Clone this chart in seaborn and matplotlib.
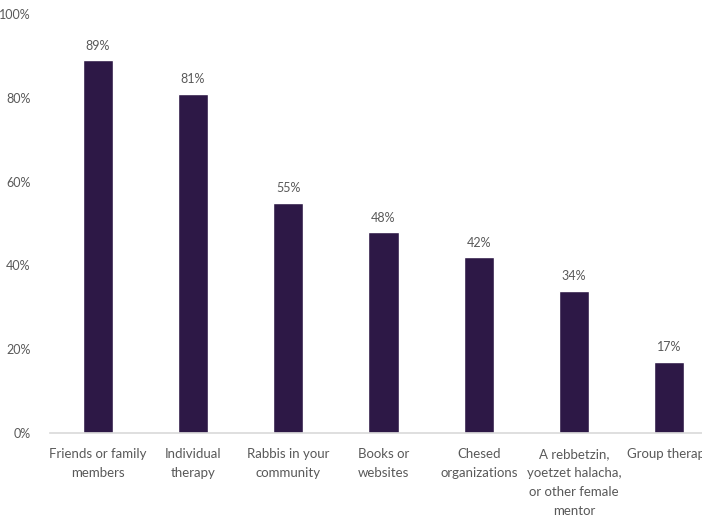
import matplotlib
matplotlib.use("Agg")
import matplotlib.pyplot as plt
import seaborn as sns
import pandas as pd

categories = [
    "Friends or family\nmembers",
    "Individual\ntherapy",
    "Rabbis in your\ncommunity",
    "Books or\nwebsites",
    "Chesed\norganizations",
    "A rebbetzin,\nyoetzet halacha,\nor other female\nmentor",
    "Group therapy",
]
values = [89, 81, 55, 48, 42, 34, 17]
y_ticks = [0, 20, 40, 60, 80, 100]
y_tick_labels = ["0%", "20%", "40%", "60%", "80%", "100%"]

bar_color = "#2d1846"
text_color = "#595959"

sns.set_theme(style="white")
plt.rcParams["font.family"] = ["Lato", "DejaVu Sans"]

df = pd.DataFrame({"source": categories, "pct": values})

fig = plt.figure(figsize=(7.02, 5.18), dpi=100)
ax = fig.add_axes([50 / 702, 1 - 433 / 518, 667 / 702, 419 / 518])

sns.barplot(data=df, x="source", y="pct", color=bar_color, width=0.315,
            saturation=1, ax=ax)

for i, v in enumerate(values):
    ax.annotate(f"{v}%", (i, v), xytext=(0, 6), textcoords="offset points",
                ha="center", va="bottom", fontsize=9, color=text_color)

ax.set_ylim(0, 100)
ax.set_xlim(-0.5, 6.5)
ax.set_yticks(y_ticks)
ax.set_yticklabels(y_tick_labels)
ax.set_xlabel("")
ax.set_ylabel("")
ax.tick_params(axis="y", length=0, pad=14, labelsize=9, labelcolor=text_color)
ax.tick_params(axis="x", length=0, pad=11, labelsize=9.5, labelcolor=text_color)
for lbl in ax.get_xticklabels():
    lbl.set_linespacing(1.68)

for side in ["top", "right", "left"]:
    ax.spines[side].set_visible(False)
ax.spines["bottom"].set_color("#d9d9d9")
ax.spines["bottom"].set_linewidth(1.2)

fig.savefig("out.png", dpi=100)
